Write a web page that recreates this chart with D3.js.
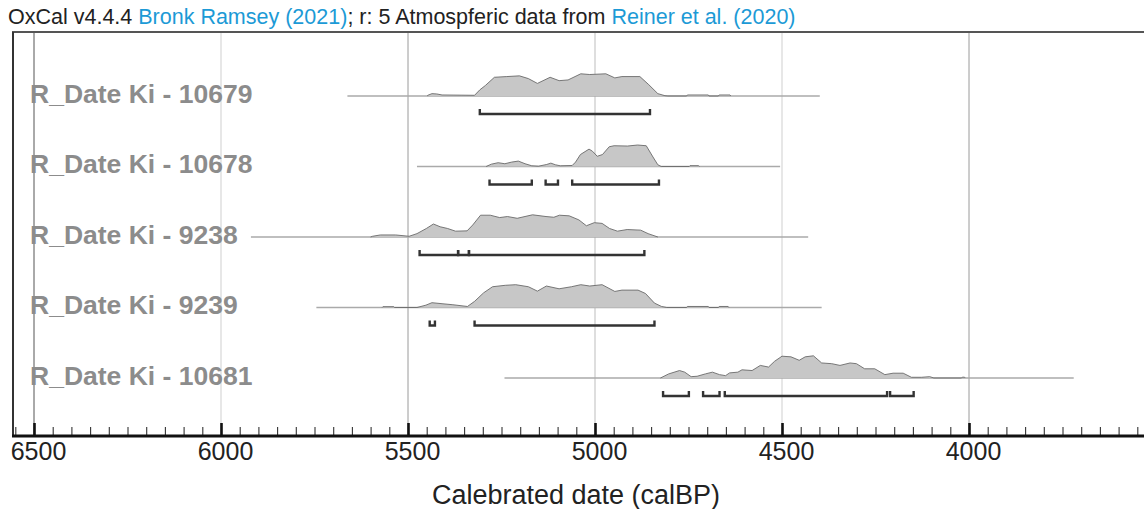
<!DOCTYPE html>
<html><head><meta charset="utf-8">
<script src="https://cdn.jsdelivr.net/npm/d3@7"></script>
<style>
html,body{margin:0;padding:0;background:#fff;}
svg{display:block;font-family:"Liberation Sans",Arial,sans-serif;}
</style></head>
<body><svg id="chart" width="1144" height="509"></svg>
<script>
// ---------- data ----------
const titleParts = [
  {text: "OxCal v4.4.4 ", link: false},
  {text: "Bronk Ramsey (2021)", link: true},
  {text: "; r: 5 Atmospferic data from ", link: false},
  {text: "Reiner et al. (2020)", link: true}
];
const categories = ["R_Date Ki - 10679", "R_Date Ki - 10678", "R_Date Ki - 9238", "R_Date Ki - 9239", "R_Date Ki - 10681"];
const majorTicks = [6500, 6000, 5500, 5000, 4500, 4000];
const minorTicks = d3.range(6550, 3549, -50);
const axisTitle = "Calebrated date (calBP)";

// row extent lines [from, to] (calBP)
const rowExtents = [[5662, 4399], [5476, 4505], [5920, 4430], [5745, 4394], [5242, 3720]];

// probability distributions: [calBP, relative density]
const dist10679 = [[5449,0],[5447,0.7],[5436,2.3],[5423,2],[5409,1],[5322,0.7],[5308,6],[5293,10.3],[5269,18.3],[5236,19],[5202,19.7],[5178,17],[5154,12.3],[5120,18.3],[5096,15],[5072,15.7],[5038,21.7],[5014,21],[4971,21.7],[4947,17.7],[4928,19],[4880,19],[4856,11],[4832,2.3],[4813,0.3],[4805,0],
  [4755,0],[4753,1],[4697,1],[4695,0],[4670,0],[4668,1],[4639,1],[4637,0]];
const dist10678 = [[5291,0],[5277,2.3],[5259,3.7],[5241,2.7],[5223,4.3],[5205,5.3],[5187,2.7],[5169,0.7],[5151,0.3],[5129,2],[5118,3.3],[5106,1.7],[5093,0.7],[5061,1],[5052,4.3],[5039,11.7],[5016,17],[5007,15],[4994,10],[4980,11.7],[4962,19.3],[4949,20.3],[4913,20],[4886,21],[4863,20.3],[4845,9.3],[4832,1.7],[4823,0],
  [4748,0],[4746,0.8],[4723,0.8],[4721,0]];
const dist9238 = [[5600,0],[5595,0.7],[5574,2],[5533,2],[5497,0.7],[5476,3.3],[5451,8.3],[5432,12.7],[5414,10],[5394,8.3],[5373,5.7],[5342,6],[5327,11.7],[5306,21.3],[5280,21.3],[5255,19],[5234,20],[5208,18.3],[5167,21.7],[5131,20],[5110,19.3],[5095,21.3],[5069,20.7],[5043,16.7],[5023,11],[5002,14],[4981,13.3],[4961,8.3],[4940,5.7],[4914,7.3],[4878,6.7],[4858,3.3],[4832,0]];
const dist9239 = [[5569,0],[5567,0.8],[5538,0.8],[5536,0],[5476,0],[5452,2.3],[5436,4.7],[5409,3.7],[5380,2.7],[5341,1],[5322,6],[5298,14.3],[5274,20.3],[5240,21.7],[5212,22.3],[5178,20.3],[5154,16],[5130,21],[5096,18.3],[5063,20.3],[5038,22.3],[5014,21],[4981,22.3],[4947,15.7],[4928,17],[4885,17],[4865,13.7],[4841,4.3],[4822,1],[4808,0],
  [4755,0],[4753,1],[4697,1],[4695,0],[4670,0],[4668,1],[4644,1],[4642,0]];
const dist10681 = [[4825,0],[4803,4],[4774,7.3],[4760,5.7],[4743,1.3],[4727,1.7],[4705,4],[4686,5.7],[4667,3.3],[4651,2.3],[4640,5],[4618,5.7],[4607,8],[4580,7.3],[4558,12.3],[4536,10.7],[4520,16.3],[4500,21.3],[4476,20.7],[4454,17.3],[4438,20.7],[4416,21.7],[4394,14.7],[4367,14],[4345,12.3],[4318,14.7],[4301,14],[4279,9],[4252,9],[4225,3.3],[4203,4.7],[4176,4.7],[4154,0.7],[4127,0.7],[4105,1.3],[4094,0],
  [4020,0],[4018,0.8],[4012,0.8],[4010,0]];
const distributions = [dist10679, dist10678, dist9238, dist9239, dist10681];

// 95.4% ranges [from, to]
const ranges10679 = [[5308, 4853]];
const ranges10678 = [[5282, 5169], [5132, 5099], [5061, 4829]];
const ranges9238 = [[5469, 5366], [5366, 5337], [5337, 4868]];
const ranges9239 = [[5442, 5428], [5322, 4841]];
const ranges10681 = [[4818, 4749], [4711, 4667], [4653, 4219], [4211, 4148]];
const ranges = [ranges10679, ranges10678, ranges9238, ranges9239, ranges10681];

// ---------- drawing ----------
const W = 1144, H = 509;
const frameLeft = 13, frameTop = 32, axisY = 436;
const svg = d3.select("#chart");

const x = d3.scaleLinear().domain([6500, 4000]).range([34, 969]);
const y = d3.scalePoint().domain(categories).range([96, 378]);
const hScale = d3.scaleLinear().domain([0, 22]).range([0, 22.5]);

const gridColors = {6500: "#555", 6000: "#cfcfcf", 5500: "#9a9a9a", 5000: "#bdbdbd", 4500: "#cfcfcf", 4000: "#9a9a9a"};

// gridlines
svg.append("g").selectAll("line").data(majorTicks).join("line")
  .attr("x1", d => x(d)).attr("x2", d => x(d))
  .attr("y1", frameTop).attr("y2", axisY)
  .attr("stroke", d => gridColors[d]).attr("stroke-width", 1);

// title
const t = svg.append("text").attr("x", 8).attr("y", 24).attr("font-size", 21.5).attr("fill", "#222");
titleParts.forEach(p => t.append("tspan").text(p.text).attr("fill", p.link ? "#1c9ad6" : "#222"));

// frame
svg.append("line").attr("x1", frameLeft - 1).attr("x2", W).attr("y1", frameTop).attr("y2", frameTop)
  .attr("stroke", "#555").attr("stroke-width", 2);
svg.append("line").attr("x1", frameLeft).attr("x2", frameLeft).attr("y1", frameTop).attr("y2", axisY)
  .attr("stroke", "#333").attr("stroke-width", 2);

// rows
const rows = svg.append("g").selectAll("g").data(categories).join("g")
  .attr("transform", d => `translate(0,${y(d)})`);

rows.append("line")
  .attr("x1", (d, i) => x(rowExtents[i][0])).attr("x2", (d, i) => x(rowExtents[i][1]))
  .attr("y1", 0).attr("y2", 0).attr("stroke", "#aaa").attr("stroke-width", 1.3);

const area = d3.area().x(d => x(d[0])).y0(0).y1(d => -hScale(d[1])).curve(d3.curveLinear);
const topLine = d3.line().x(d => x(d[0])).y(d => -hScale(d[1]));
rows.append("path").attr("d", (d, i) => area(distributions[i]))
  .attr("fill", "#c7c7c7").attr("stroke", "none");
rows.append("path").attr("d", (d, i) => topLine(distributions[i]))
  .attr("fill", "none").attr("stroke", "#6a6a6a").attr("stroke-width", 0.9);

// ranges (brackets)
const bracketY = 18, tickUp = 5;
rows.each(function(d, i) {
  d3.select(this).selectAll("path.rng").data(ranges[i]).join("path").attr("class", "rng")
    .attr("d", r => `M${x(r[0])},${bracketY - tickUp}V${bracketY}H${x(r[1])}V${bracketY - tickUp}`)
    .attr("fill", "none").attr("stroke", "#333").attr("stroke-width", 2.4);
});

// labels
rows.append("text").text(d => d).attr("x", 30).attr("y", 6.5)
  .attr("font-size", 26.5).attr("font-weight", "bold").attr("fill", "#8c8c8c");

// axis
const axisG = svg.append("g").attr("transform", `translate(0,${axisY})`);
axisG.append("g").call(d3.axisBottom(x).tickValues(minorTicks).tickSizeInner(-9).tickSizeOuter(0).tickFormat(""))
  .call(g => g.select(".domain").remove())
  .call(g => g.selectAll(".tick line").attr("stroke", "#333").attr("stroke-width", 1.1));
axisG.append("g").call(d3.axisBottom(x).tickValues(majorTicks).tickSizeInner(-13).tickSizeOuter(0).tickPadding(6).tickFormat(d3.format("d")))
  .call(g => g.select(".domain").remove())
  .call(g => g.selectAll(".tick line").attr("stroke", "#111").attr("stroke-width", 2.6))
  .call(g => g.selectAll(".tick text").attr("font-size", 25).attr("fill", "#222").attr("dx", 4)
     .attr("font-family", "'Liberation Sans',Arial,sans-serif"));
axisG.append("line").attr("x1", frameLeft - 1).attr("x2", W).attr("y1", 0).attr("y2", 0)
  .attr("stroke", "#111").attr("stroke-width", 3);

svg.append("text").text(axisTitle).attr("x", 576).attr("y", 504).attr("text-anchor", "middle")
  .attr("font-size", 27).attr("fill", "#222");
</script></body></html>
